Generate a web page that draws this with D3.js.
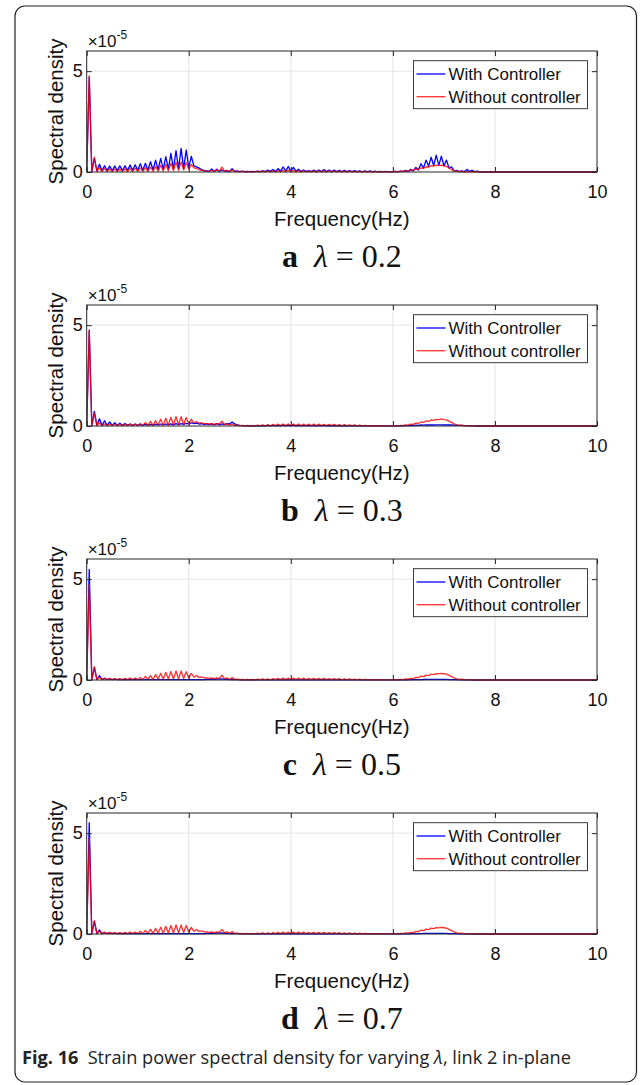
<!DOCTYPE html>
<html><head><meta charset="utf-8">
<script src="https://cdn.jsdelivr.net/npm/d3@7"></script>
<style>body{margin:0;background:#fff}</style>
</head><body><svg id="c" width="640" height="1085"></svg>
<script>
// Frequency grid (Hz)
const freq = [
0,0.05,0.1,0.15,0.2,0.25,0.3,0.35,0.4,0.45,0.5,0.55,0.6,0.65,0.7,0.75,0.8,0.85,0.9,0.95,
1,1.05,1.1,1.15,1.2,1.25,1.3,1.35,1.4,1.45,1.5,1.55,1.6,1.65,1.7,1.75,1.8,1.85,1.9,1.95,
2,2.05,2.1,2.15,2.2,2.25,2.3,2.35,2.4,2.45,2.5,2.55,2.6,2.65,2.7,2.75,2.8,2.85,2.9,2.95,
3,3.05,3.1,3.15,3.2,3.25,3.3,3.35,3.4,3.45,3.5,3.55,3.6,3.65,3.7,3.75,3.8,3.85,3.9,3.95,
4,4.05,4.1,4.15,4.2,4.25,4.3,4.35,4.4,4.45,4.5,4.55,4.6,4.65,4.7,4.75,4.8,4.85,4.9,4.95,
5,5.05,5.1,5.15,5.2,5.25,5.3,5.35,5.4,5.45,5.5,5.55,5.6,5.65,5.7,5.75,5.8,5.85,5.9,5.95,
6,6.05,6.1,6.15,6.2,6.25,6.3,6.35,6.4,6.45,6.5,6.55,6.6,6.65,6.7,6.75,6.8,6.85,6.9,6.95,
7,7.05,7.1,7.15,7.2,7.25,7.3,7.35,7.4,7.45,7.5,7.55,7.6,7.65,7.7,7.75,7.8,7.85,7.9,7.95,
8,10];

// Spectral density values, in units of 1e-5
const aWith = [
0,4.72,0.02,0.68,0.06,0.38,0.07,0.31,0.07,0.30,0.07,0.30,0.07,0.31,0.07,0.31,0.08,0.35,0.08,0.36,
0.08,0.41,0.09,0.43,0.1,0.51,0.11,0.59,0.12,0.68,0.13,0.76,0.14,0.92,0.15,1.06,0.16,1.17,0.17,1.09,
0.22,0.78,0.3,0.25,0.2,0.12,0.08,0.06,0.04,0.15,0.03,0.14,0.03,0.1,0.05,0.06,0.03,0.16,0.03,0.05,
0.02,0.04,0.02,0.03,0.02,0.03,0.02,0.04,0.02,0.06,0.03,0.09,0.03,0.12,0.03,0.17,0.04,0.25,0.05,0.27,
0.05,0.23,0.04,0.14,0.03,0.1,0.03,0.07,0.02,0.09,0.02,0.1,0.02,0.12,0.02,0.1,0.02,0.09,0.02,0.08,
0.02,0.08,0.02,0.07,0.02,0.07,0.02,0.06,0.01,0.06,0.01,0.05,0.01,0.04,0.01,0.03,0.01,0.03,0.01,0.02,
0.01,0.03,0.01,0.04,0.02,0.08,0.03,0.13,0.05,0.23,0.1,0.41,0.2,0.59,0.28,0.73,0.32,0.84,0.33,0.79,
0.3,0.59,0.2,0.26,0.06,0.08,0.02,0.05,0.02,0.13,0.03,0.08,0.02,0.04,0.01,0.02,0,0.01,0,0,
0,0];
const aWithout = [
0,4.76,0.02,0.74,0.02,0.22,0.02,0.18,0.02,0.16,0.02,0.15,0.02,0.15,0.02,0.16,0.02,0.18,0.02,0.19,
0.03,0.2,0.03,0.22,0.03,0.25,0.04,0.28,0.04,0.33,0.05,0.38,0.06,0.43,0.07,0.48,0.08,0.5,0.1,0.47,
0.15,0.38,0.2,0.18,0.12,0.08,0.05,0.04,0.03,0.08,0.03,0.1,0.04,0.24,0.05,0.08,0.02,0.1,0.02,0.03,
0.02,0.03,0.01,0.02,0.01,0.02,0.01,0.03,0.01,0.04,0.01,0.05,0.01,0.06,0.01,0.07,0.01,0.08,0.02,0.09,
0.02,0.08,0.01,0.07,0.01,0.06,0.01,0.05,0.01,0.06,0.01,0.06,0.01,0.06,0.01,0.05,0.01,0.05,0.01,0.04,
0.01,0.04,0.01,0.04,0.01,0.03,0.01,0.03,0.01,0.03,0.01,0.02,0.01,0.02,0.01,0.02,0.01,0.02,0.01,0.02,
0.01,0.03,0.02,0.04,0.03,0.06,0.05,0.1,0.09,0.14,0.13,0.2,0.18,0.26,0.24,0.31,0.29,0.34,0.32,0.34,
0.31,0.28,0.2,0.12,0.06,0.05,0.02,0.03,0.01,0.02,0.01,0.02,0.01,0.01,0,0,0,0,0,0,
0,0];
const bWith = [
0,4.74,0.02,0.72,0.03,0.36,0.03,0.26,0.03,0.2,0.03,0.17,0.03,0.14,0.03,0.12,0.03,0.1,0.03,0.09,
0.03,0.08,0.03,0.08,0.04,0.08,0.04,0.09,0.05,0.1,0.05,0.1,0.06,0.11,0.06,0.12,0.07,0.12,0.08,0.13,
0.1,0.16,0.12,0.14,0.1,0.12,0.08,0.1,0.07,0.1,0.06,0.12,0.06,0.1,0.07,0.12,0.1,0.2,0.1,0.06,
0.03,0.02,0.01,0.02,0.01,0.02,0.01,0.02,0.01,0.02,0.01,0.03,0.01,0.03,0.01,0.03,0.01,0.04,0.01,0.04,
0.01,0.04,0.01,0.03,0.01,0.03,0.01,0.03,0.01,0.03,0.01,0.03,0.01,0.03,0.01,0.02,0.01,0.02,0.01,0.02,
0.01,0.02,0.01,0.02,0.01,0.02,0.01,0.02,0.01,0.01,0.01,0.01,0.01,0.01,0.01,0.01,0.01,0.01,0.01,0.01,
0.01,0.01,0.01,0.02,0.01,0.02,0.02,0.03,0.02,0.04,0.03,0.05,0.04,0.05,0.05,0.06,0.05,0.06,0.06,0.06,
0.05,0.06,0.05,0.05,0.04,0.04,0.03,0.03,0.02,0.02,0.01,0.01,0.01,0,0,0,0,0,0,0,
0,0];
const bWithout = [
0,4.76,0.02,0.63,0.02,0.16,0.02,0.1,0.02,0.08,0.02,0.08,0.02,0.08,0.02,0.08,0.02,0.09,0.02,0.09,
0.02,0.12,0.02,0.18,0.03,0.23,0.03,0.27,0.04,0.34,0.04,0.38,0.05,0.43,0.05,0.46,0.06,0.46,0.07,0.42,
0.1,0.34,0.15,0.22,0.14,0.16,0.12,0.12,0.1,0.12,0.08,0.12,0.1,0.24,0.08,0.1,0.04,0.09,0.03,0.04,
0.02,0.03,0.01,0.03,0.01,0.03,0.01,0.04,0.01,0.06,0.01,0.07,0.01,0.08,0.02,0.09,0.02,0.1,0.02,0.1,
0.02,0.1,0.02,0.1,0.02,0.09,0.02,0.09,0.02,0.09,0.02,0.09,0.02,0.08,0.02,0.08,0.02,0.08,0.02,0.07,
0.01,0.07,0.01,0.06,0.01,0.05,0.01,0.04,0.01,0.03,0.01,0.02,0.01,0.02,0.01,0.02,0.01,0.01,0.01,0.01,
0.01,0.02,0.01,0.03,0.02,0.05,0.04,0.09,0.08,0.14,0.13,0.2,0.18,0.25,0.23,0.3,0.28,0.33,0.31,0.35,
0.32,0.3,0.24,0.18,0.1,0.06,0.03,0.04,0.02,0.02,0.01,0.01,0.01,0.01,0,0,0,0,0,0,
0,0];
const cWith = [
0,5.48,0.02,0.6,0.02,0.22,0.02,0.08,0.02,0.05,0.02,0.04,0.02,0.03,0.02,0.03,0.02,0.03,0.02,0.03,
0.02,0.02,0.02,0.02,0.02,0.02,0.02,0.02,0.02,0.02,0.02,0.02,0.02,0.02,0.02,0.02,0.02,0.02,0.02,0.02,
0.02,0.02,0.02,0.02,0.02,0.02,0.02,0.03,0.03,0.04,0.03,0.05,0.04,0.06,0.03,0.04,0.02,0.03,0.02,0.02,
0.01,0.01,0.01,0.01,0.01,0.01,0.01,0.01,0.01,0.01,0.01,0.01,0.01,0.01,0.01,0.01,0.01,0.01,0.01,0.01,
0.01,0.01,0.01,0.01,0.01,0.01,0.01,0.01,0.01,0.01,0.01,0.01,0.01,0.01,0.01,0.01,0.01,0.01,0.01,0.01,
0.01,0.01,0.01,0.01,0.01,0.01,0.01,0.01,0.01,0.01,0.01,0.01,0.01,0.01,0.01,0.01,0.01,0.01,0.01,0.01,
0.01,0.01,0.01,0.01,0.01,0.01,0.01,0.02,0.02,0.02,0.02,0.02,0.03,0.03,0.03,0.03,0.03,0.03,0.03,0.03,
0.03,0.03,0.02,0.02,0.02,0.02,0.01,0.01,0.01,0.01,0.01,0.01,0,0,0,0,0,0,0,0,
0,0];
const cWithout = [
0,4.74,0.02,0.66,0.02,0.14,0.02,0.09,0.02,0.08,0.02,0.07,0.02,0.07,0.02,0.08,0.02,0.09,0.02,0.1,
0.02,0.13,0.02,0.18,0.03,0.22,0.03,0.27,0.04,0.33,0.04,0.38,0.05,0.42,0.05,0.45,0.06,0.45,0.07,0.41,
0.1,0.33,0.14,0.22,0.13,0.15,0.11,0.1,0.08,0.1,0.07,0.1,0.08,0.24,0.07,0.1,0.03,0.12,0.03,0.04,
0.02,0.03,0.01,0.03,0.01,0.03,0.01,0.04,0.01,0.05,0.01,0.06,0.01,0.07,0.02,0.08,0.02,0.09,0.02,0.09,
0.02,0.09,0.02,0.09,0.02,0.09,0.02,0.08,0.02,0.08,0.02,0.08,0.02,0.08,0.02,0.07,0.02,0.07,0.02,0.07,
0.01,0.06,0.01,0.05,0.01,0.04,0.01,0.04,0.01,0.03,0.01,0.02,0.01,0.02,0.01,0.02,0.01,0.01,0.01,0.01,
0.01,0.02,0.01,0.03,0.02,0.05,0.04,0.08,0.07,0.13,0.12,0.19,0.17,0.24,0.22,0.29,0.27,0.32,0.3,0.33,
0.31,0.29,0.23,0.17,0.1,0.06,0.03,0.04,0.02,0.02,0.01,0.01,0.01,0.01,0,0,0,0,0,0,
0,0];
const dWith = [
0,5.52,0.02,0.62,0.02,0.2,0.02,0.07,0.02,0.05,0.02,0.04,0.02,0.03,0.02,0.03,0.02,0.03,0.02,0.02,
0.02,0.02,0.02,0.02,0.02,0.02,0.02,0.02,0.02,0.02,0.02,0.02,0.02,0.02,0.02,0.02,0.02,0.02,0.02,0.02,
0.02,0.02,0.02,0.02,0.02,0.02,0.02,0.03,0.03,0.04,0.03,0.05,0.04,0.05,0.03,0.04,0.02,0.03,0.02,0.02,
0.01,0.01,0.01,0.01,0.01,0.01,0.01,0.01,0.01,0.01,0.01,0.01,0.01,0.01,0.01,0.01,0.01,0.01,0.01,0.01,
0.01,0.01,0.01,0.01,0.01,0.01,0.01,0.01,0.01,0.01,0.01,0.01,0.01,0.01,0.01,0.01,0.01,0.01,0.01,0.01,
0.01,0.01,0.01,0.01,0.01,0.01,0.01,0.01,0.01,0.01,0.01,0.01,0.01,0.01,0.01,0.01,0.01,0.01,0.01,0.01,
0.01,0.01,0.01,0.01,0.01,0.01,0.01,0.02,0.02,0.02,0.02,0.02,0.03,0.03,0.03,0.03,0.03,0.03,0.03,0.03,
0.03,0.03,0.02,0.02,0.02,0.02,0.01,0.01,0.01,0.01,0.01,0.01,0,0,0,0,0,0,0,0,
0,0];
const dWithout = [
0,4.75,0.02,0.66,0.02,0.15,0.02,0.09,0.02,0.08,0.02,0.07,0.02,0.07,0.02,0.08,0.02,0.09,0.02,0.1,
0.02,0.14,0.02,0.18,0.03,0.23,0.03,0.28,0.04,0.34,0.04,0.38,0.05,0.42,0.05,0.45,0.06,0.45,0.07,0.42,
0.1,0.33,0.14,0.22,0.13,0.15,0.11,0.1,0.08,0.1,0.07,0.1,0.08,0.23,0.07,0.1,0.03,0.12,0.03,0.04,
0.02,0.03,0.01,0.03,0.01,0.03,0.01,0.04,0.01,0.05,0.01,0.06,0.01,0.07,0.02,0.08,0.02,0.09,0.02,0.09,
0.02,0.09,0.02,0.09,0.02,0.09,0.02,0.08,0.02,0.08,0.02,0.08,0.02,0.08,0.02,0.07,0.02,0.07,0.02,0.07,
0.01,0.06,0.01,0.05,0.01,0.04,0.01,0.04,0.01,0.03,0.01,0.02,0.01,0.02,0.01,0.02,0.01,0.01,0.01,0.01,
0.01,0.02,0.01,0.03,0.02,0.05,0.04,0.08,0.07,0.13,0.12,0.19,0.17,0.24,0.22,0.29,0.27,0.32,0.3,0.33,
0.31,0.29,0.23,0.17,0.1,0.06,0.03,0.04,0.02,0.02,0.01,0.01,0.01,0.01,0,0,0,0,0,0,
0,0];

const panelLetters = ["a","b","c","d"];
const lambdaValues = ["0.2","0.3","0.5","0.7"];
const withSeries = [aWith,bWith,cWith,dWith];
const withoutSeries = [aWithout,bWithout,cWithout,dWithout];
const seriesNames = ["With Controller","Without controller"];
const xTicks = [0,2,4,6,8,10];
const yTicks = [0,5];
const xLabel = "Frequency(Hz)";
const yLabel = "Spectral density";

const svg = d3.select("#c");
const SANS = "'Liberation Sans', Arial, Helvetica, sans-serif";

svg.append("rect").attr("x",15).attr("y",6).attr("width",621.5).attr("height",1076)
  .attr("rx",10).attr("fill","none").attr("stroke","#222").attr("stroke-width",1.2);

const x = d3.scaleLinear().domain([0,10]).range([86.7,597]);
const line = (y) => d3.line().x((d,i)=>x(freq[i])).y(d=>y(d));
const fmt = d3.format("d");

for (let k=0;k<4;k++){
  const top = 51 + 254*k, bottom = 172 + 254*k;
  const y = d3.scaleLinear().domain([0,6]).range([bottom, top]);
  const g = svg.append("g");
  // grid
  g.selectAll(".gx").data(xTicks.slice(1,-1)).join("line")
    .attr("x1",d=>x(d)).attr("x2",d=>x(d)).attr("y1",top).attr("y2",bottom)
    .attr("stroke","#e3e3e3").attr("stroke-width",1);
  g.selectAll(".gy").data(yTicks.slice(1)).join("line")
    .attr("x1",x(0)).attr("x2",x(10)).attr("y1",d=>y(d)).attr("y2",d=>y(d))
    .attr("stroke","#e3e3e3").attr("stroke-width",1);
  // clip
  const cid = "clip"+k;
  svg.append("clipPath").attr("id",cid).append("rect")
    .attr("x",x(0)).attr("y",top).attr("width",x(10)-x(0)).attr("height",bottom-top+1);
  const pg = g.append("g").attr("clip-path",`url(#${cid})`);
  pg.append("path").datum(withSeries[k]).attr("d",line(y))
    .attr("fill","none").attr("stroke","#0000ff").attr("stroke-width",1.3).attr("stroke-linejoin","round");
  pg.append("path").datum(withoutSeries[k]).attr("d",line(y))
    .attr("fill","none").attr("stroke","#ff0000").attr("stroke-opacity",0.82).attr("stroke-width",1.3).attr("stroke-linejoin","round");
  // axes
  const ax = g.append("g").attr("transform",`translate(0,${bottom})`)
    .call(d3.axisBottom(x).tickValues(xTicks).tickFormat(fmt).tickSizeInner(-5).tickSizeOuter(0).tickPadding(13));
  const ay = g.append("g").attr("transform",`translate(${x(0)},0)`)
    .call(d3.axisLeft(y).tickValues(yTicks).tickFormat(fmt).tickSizeInner(-5).tickSizeOuter(0).tickPadding(4));
  const axt = g.append("g").attr("transform",`translate(0,${top})`)
    .call(d3.axisTop(x).tickValues(xTicks).tickSizeInner(-5).tickSizeOuter(0).tickFormat(""));
  const ayr = g.append("g").attr("transform",`translate(${x(10)},0)`)
    .call(d3.axisRight(y).tickValues(yTicks).tickSizeInner(-5).tickSizeOuter(0).tickFormat(""));
  [ax,ay,axt,ayr].forEach(a=>{
    a.attr("font-family",SANS);
    a.select(".domain").remove();
    a.selectAll("line").attr("stroke","#262626");
    a.selectAll("text").attr("font-family",SANS).attr("font-size",18).attr("fill","#111");
  });
  g.append("rect").attr("x",x(0)).attr("y",top).attr("width",x(10)-x(0)).attr("height",bottom-top)
    .attr("fill","none").attr("stroke","#262626").attr("stroke-width",1);
  // exponent
  const ex = g.append("text").attr("x",x(0)+1).attr("y",top-4).attr("font-family",SANS).attr("fill","#111");
  ex.append("tspan").attr("font-size",17).text("\u00d710");
  ex.append("tspan").attr("font-size",12).attr("dy",-8).text("-5");
  // axis labels
  g.append("text").attr("transform",`translate(55,${(top+bottom)/2}) rotate(-90)`)
    .attr("text-anchor","middle").attr("dominant-baseline","central")
    .attr("font-family",SANS).attr("font-size",20.5).attr("fill","#111").text(yLabel);
  g.append("text").attr("x",(x(0)+x(10))/2).attr("y",bottom+46)
    .attr("text-anchor","middle").attr("dominant-baseline","central")
    .attr("font-family",SANS).attr("font-size",20.5).attr("fill","#111").text(xLabel);
  // legend
  const lx = x(10)-9.5-174, ly = top+9.7;
  const lg = g.append("g");
  lg.append("rect").attr("x",lx).attr("y",ly).attr("width",174).attr("height",48)
    .attr("fill","#fff").attr("stroke","#262626").attr("stroke-width",0.9);
  const lcols = ["#0000ff","#ff0000"];
  seriesNames.forEach((n,i)=>{
    const yy = ly + 13.3 + i*22.7;
    lg.append("line").attr("x1",lx+3).attr("x2",lx+32).attr("y1",yy).attr("y2",yy)
      .attr("stroke",lcols[i]).attr("stroke-width",1.3).attr("stroke-opacity",i?0.82:1);
    lg.append("text").attr("x",lx+35).attr("y",yy).attr("dy","0.35em")
      .attr("font-family",SANS).attr("font-size",17).attr("fill","#111").text(n);
  });
  // sub caption
  const sc = g.append("text").attr("x",(x(0)+x(10))/2).attr("y",bottom+95)
    .attr("text-anchor","middle").attr("font-family","'Liberation Serif','Times New Roman',serif")
    .attr("font-size",32).attr("fill","#111");
  sc.append("tspan").attr("font-weight","bold").text(panelLetters[k]);
  sc.append("tspan").text("\u2002");
  sc.append("tspan").attr("font-style","italic").text("\u03bb");
  sc.append("tspan").text(" = " + lambdaValues[k]);
}

// figure caption
const cap = svg.append("text").attr("x",22).attr("y",1064)
  .attr("font-family","'Open Sans','Noto Sans',sans-serif").attr("font-size",18.2).attr("fill","#222");
cap.append("tspan").attr("font-weight","bold").text("Fig. 16");
cap.append("tspan").text("\u2002Strain power spectral density for varying ");
cap.append("tspan").attr("font-style","italic").text("\u03bb");
cap.append("tspan").text(", link 2 in-plane");
</script>
</body></html>
